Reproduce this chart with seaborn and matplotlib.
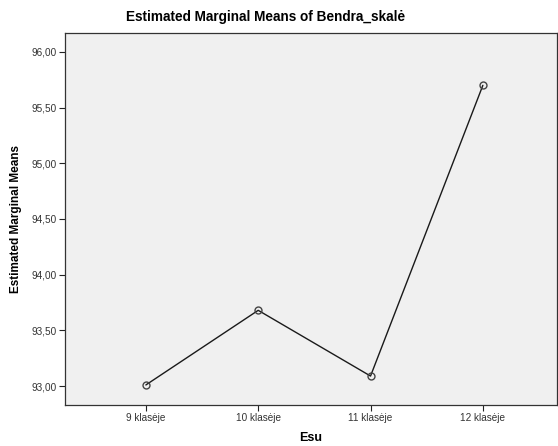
import pandas as pd
import matplotlib.pyplot as plt
import matplotlib.ticker as mticker
import seaborn as sns

# Data
grades = ['9 klasėje', '10 klasėje', '11 klasėje', '12 klasėje']
means = [93.01, 93.68, 93.09, 95.70]
y_ticks = [93.0, 93.5, 94.0, 94.5, 95.0, 95.5, 96.0]

df = pd.DataFrame({'Esu': grades, 'mean': means})
df['pos'] = range(len(grades))

sns.set_theme(style="white")
plt.rcParams['font.family'] = ['Liberation Sans', 'DejaVu Sans']

fig = plt.figure(figsize=(5.58, 4.46), dpi=100)
ax = fig.add_axes([65 / 558, 1 - 405 / 446, 492 / 558, 372 / 446])
ax.set_facecolor('#f0f0f0')

sns.lineplot(data=df, x='pos', y='mean', ax=ax, color='#1a1a1a', linewidth=1.0,
             marker='o', markersize=5, markerfacecolor='none',
             markeredgecolor='#444444', markeredgewidth=1.0)

ax.set_xlim(-0.72, 3.66)
ax.set_ylim(92.83, 96.17)
ax.set_xticks(df['pos'])
ax.set_xticklabels(grades)
ax.set_yticks(y_ticks)
ax.yaxis.set_major_formatter(mticker.FuncFormatter(lambda v, p: f'{v:.2f}'.replace('.', ',')))

ax.tick_params(axis='both', which='both', direction='out', length=4, width=0.8,
               colors='#222222', labelcolor='#333333', labelsize=7.2, pad=2,
               left=True, bottom=True)
for s in ax.spines.values():
    s.set_color('#333333')
    s.set_linewidth(0.9)

ax.set_xlabel('Esu', fontsize=9, fontweight='bold', labelpad=6, color='black')
ax.set_ylabel('Estimated Marginal Means', fontsize=8.5, fontweight='bold', labelpad=7, color='black')
fig.text(266 / 558, 1 - 17 / 446, 'Estimated Marginal Means of Bendra_skalė',
         fontsize=9.8, fontweight='bold', ha='center', va='center', color='black')

fig.savefig('out.png', dpi=100)
